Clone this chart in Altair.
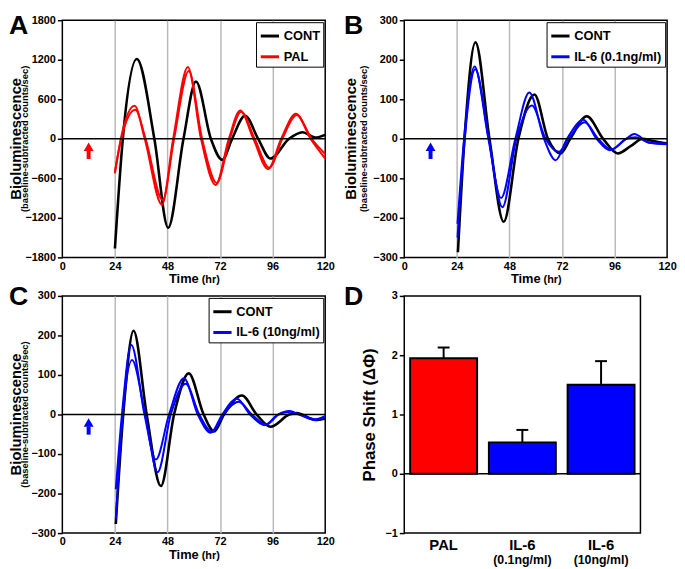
import altair as alt
import pandas as pd

FONT = "Liberation Sans"

# ---------------- Panel A (CONT vs PAL) ----------------
a_cont_t = [24, 27.6, 34, 42, 48.3, 55.3, 61, 67.8, 73, 77.5, 83.4, 89.4, 95, 103.5, 109.6, 115.5, 120]
a_cont_v = [-1665, 0, 1210, 0, -1350, 0, 870, 0, -320, 0, 350, 0, -300, 0, 100, 20, 60]
a_pal1_t = [24, 26.7, 33, 37.6, 45.5, 50.6, 57.3, 63.3, 70, 76, 81.2, 87.2, 93.9, 99.9, 106.6, 113.3, 120]
a_pal1_v = [-525, 0, 500, 0, -1000, 0, 1090, 0, -700, 0, 430, 0, -460, 0, 380, 0, -300]
a_pal2_t = [24, 26.9, 33.3, 38.0, 45.8, 51.0, 57.7, 63.8, 70.5, 76.4, 81.6, 87.8, 94.5, 100.4, 107.0, 113.8, 120]
a_pal2_v = [-500, 0, 440, 0, -930, 0, 1030, 0, -670, 0, 410, 0, -440, 0, 360, 0, -230]

# ---------------- Panel B (CONT vs IL-6 0.1ng/ml) ----------------
b_cont_t = [24.5, 27.5, 32.5, 38.9, 45.4, 52.1, 59.4, 65.6, 71.3, 75.8, 83.3, 90.8, 97.5, 103.5, 108.8, 113, 120]
b_cont_v = [-287, 0, 244, 0, -210, 0, 112, 0, -37, 0, 57, 0, -37, -18, 0, -5, -12]
b_il1_t = [24.3, 27.3, 32.1, 38.4, 44.2, 50.7, 57.1, 63.8, 69.1, 74.3, 81.8, 87.8, 93.8, 101.3, 105, 112, 120]
b_il1_v = [-215, 0, 183, 0, -150, 0, 117, 0, -54, 0, 48, 0, -29, 0, 12, -10, -12]
b_il2_t = [24.3, 27.6, 32.4, 38.6, 44.8, 51.2, 58.3, 64.5, 70.5, 75.0, 82.3, 88.5, 94.5, 101.5, 105.5, 112, 120]
b_il2_v = [-250, 0, 176, 0, -173, 0, 84, 0, -33, 0, 42, 0, -27, 0, 4, -10, -14]

# ---------------- Panel C (CONT vs IL-6 10ng/ml) ----------------
c_cont_t = [24.4, 27.8, 32.5, 38.5, 45, 51, 57.7, 64.5, 69.3, 73.8, 82, 88.7, 95.1, 103.6, 107, 115.5, 120]
c_cont_v = [-277, 0, 212, 0, -181, 0, 104, 0, -43, 0, 48, 0, -31, 0, 4, -14, -10]
c_il1_t = [24.4, 27.2, 31.5, 37.5, 42.7, 48.7, 55.5, 61.8, 67.8, 73, 79.7, 85.7, 92.4, 98.4, 103.6, 108, 115.5, 120]
c_il1_v = [-189, 0, 176, 0, -114, 0, 92, 0, -46, 0, 40, 0, -27, 0, 9, 0, -14, -5]
c_il2_t = [24.4, 27.6, 31.8, 37.8, 43.5, 49.5, 56.3, 62.5, 68.3, 73.5, 80.5, 86.5, 93.0, 98.8, 104.0, 108.5, 115.5, 120]
c_il2_v = [-265, 0, 138, 0, -146, 0, 78, 0, -44, 0, 32, 0, -25, 0, 7, 0, -12, -4]

# ---------------- Panel D (phase shift bars) ----------------
d_groups = ["PAL", "IL-6 (0.1ng/ml)", "IL-6 (10ng/ml)"]
d_sub = ["", "(0.1ng/ml)", "(10ng/ml)"]
d_mean = [1.95, 0.53, 1.50]
d_err_top = [2.13, 0.74, 1.90]
d_colors = ["#ff0000", "#0000ff", "#0000ff"]

# axes ticks
time_ticks = [0, 24, 48, 72, 96, 120]
a_yticks = [-1800, -1200, -600, 0, 600, 1200, 1800]
bc_yticks = [-300, -200, -100, 0, 100, 200, 300]
d_yticks = [-1, 0, 1, 2, 3]

# stimulus arrows (time, head centre, shaft bottom, shaft top)
arrow_t = 12
a_arrow = [-120, -307, -180]
bc_arrow = [-20, -51, -30]


def series_df(parts):
    rows = []
    for name, rep, ts, vs in parts:
        for t, v in zip(ts, vs):
            rows.append({"t": t, "v": v, "s": name, "r": rep})
    return pd.DataFrame(rows)


def time_panel(df, names, colors, ydom, yticks, arrow, arrow_color,
               letter, letter_dx, letter_dy, title_dx, sub_dx, W, H=240):
    xenc = alt.X("t:Q", scale=alt.Scale(domain=[0, 120], nice=False, zero=False),
                 axis=alt.Axis(values=time_ticks, title=None, grid=True,
                               gridColor="#b9b9b9", gridWidth=1.5,
                               gridOpacity={"condition": {"test": "datum.value == 0 || datum.value == 120", "value": 0}, "value": 1},
                               ticks=False, domain=False, labelPadding=3,
                               labelFontSize=11, labelFontWeight="bold",
                               labelColor="black", labelFlush=False,
                               labelOverlap=False, format="d"))
    yaxis = alt.Axis(values=yticks, title=None, grid=False,
                     ticks=True, tickSize=5, tickColor="black",
                     tickWidth=1.5, domain=False, labelPadding=2,
                     labelFontSize=11, labelFontWeight="bold",
                     labelColor="black", labelOverlap=False,
                     labelBound=False, format="d")
    yscale = alt.Scale(domain=ydom, nice=False, zero=False)
    yenc = alt.Y("v:Q", scale=yscale, axis=yaxis)
    legend = alt.Legend(title=None, orient="top-right", offset=2,
                        strokeColor="black", fillColor="white", padding=3,
                        cornerRadius=0, labelFontSize=13, labelFontWeight="bold",
                        labelColor="black", labelFont=FONT, symbolType="stroke",
                        symbolStrokeWidth=3, symbolSize=340, rowPadding=3,
                        labelOffset=3)
    cenc = alt.Color("s:N", scale=alt.Scale(domain=names, range=colors), legend=legend)

    base = alt.Chart(df)
    cont = base.transform_filter(alt.datum.s == names[0]).mark_line(
        interpolate="monotone", strokeWidth=2.6).encode(x=xenc, y=yenc, color=cenc, detail="r:N")
    treat = base.transform_filter(alt.datum.s != names[0]).mark_line(
        interpolate="monotone", strokeWidth=2.0).encode(x=xenc, y=yenc, color=cenc, detail="r:N")

    zero = alt.Chart(pd.DataFrame({"v": [0]})).mark_rule(color="black", strokeWidth=1.5).encode(y=yenc)

    sdf = pd.DataFrame({"t": [arrow_t], "v": [arrow[1]], "v2": [arrow[2]]})
    hdf = pd.DataFrame({"t": [arrow_t], "v": [arrow[0]]})
    shaft = alt.Chart(sdf).mark_rule(color=arrow_color, strokeWidth=4).encode(
        x=xenc, y=yenc, y2="v2:Q")
    head = alt.Chart(hdf).mark_point(shape="triangle-up", filled=True, size=100,
                                      color=arrow_color, opacity=1).encode(x=xenc, y=yenc)

    one = pd.DataFrame({"a": [0]})
    title = alt.Chart(one).mark_text(angle=270, fontSize=15, fontWeight="bold", align="center",
                                     baseline="middle", color="black").encode(
        x=alt.value(title_dx), y=alt.value(H / 2), text=alt.value("Bioluminescence"))
    sub = alt.Chart(one).mark_text(angle=270, fontSize=9.5, fontWeight="bold", align="center",
                                   baseline="middle", color="black").encode(
        x=alt.value(sub_dx), y=alt.value(H / 2), text=alt.value("(baseline-subtracted counts/sec)"))
    xt1 = alt.Chart(one).mark_text(fontSize=13, fontWeight="bold", align="right",
                                   baseline="alphabetic", color="black").encode(
        x=alt.value(W / 2 + 5), y=alt.value(H + 26), text=alt.value("Time"))
    xt2 = alt.Chart(one).mark_text(fontSize=11, fontWeight="bold", align="left",
                                   baseline="alphabetic", color="black").encode(
        x=alt.value(W / 2 + 8), y=alt.value(H + 26), text=alt.value("(hr)"))
    let = alt.Chart(one).mark_text(fontSize=27, fontWeight="bold", align="left",
                                   baseline="top", color="black").encode(
        x=alt.value(letter_dx), y=alt.value(letter_dy), text=alt.value(letter))

    return alt.layer(cont, treat, zero, shaft, head, title, sub, xt1, xt2, let).properties(
        width=W, height=H)


dfA = series_df([("CONT", "c", a_cont_t, a_cont_v), ("PAL", "p1", a_pal1_t, a_pal1_v),
                 ("PAL", "p2", a_pal2_t, a_pal2_v)])
dfB = series_df([("CONT", "c", b_cont_t, b_cont_v), ("IL-6 (0.1ng/ml)", "i1", b_il1_t, b_il1_v),
                 ("IL-6 (0.1ng/ml)", "i2", b_il2_t, b_il2_v)])
dfC = series_df([("CONT", "c", c_cont_t, c_cont_v), ("IL-6 (10ng/ml)", "i1", c_il1_t, c_il1_v),
                 ("IL-6 (10ng/ml)", "i2", c_il2_t, c_il2_v)])

A = time_panel(dfA, ["CONT", "PAL"], ["#000000", "#ff0000"], [-1800, 1800], a_yticks,
               a_arrow, "#ff0000", "A", -54, -7, -46.5, -37.5, 266)
B = time_panel(dfB, ["CONT", "IL-6 (0.1ng/ml)"], ["#000000", "#0000ff"], [-300, 300], bc_yticks,
               bc_arrow, "#0000ff", "B", -61, -7, -54, -41, 266)
C = time_panel(dfC, ["CONT", "IL-6 (10ng/ml)"], ["#000000", "#0000ff"], [-300, 300], bc_yticks,
               bc_arrow, "#0000ff", "C", -54, -12, -46.5, -37.5, 266)

# ---------------- Panel D ----------------
dfD = pd.DataFrame({"g": d_groups, "sub": d_sub, "m": d_mean, "e": d_err_top, "col": d_colors})
DW, DH = 239, 240
dx = alt.X("g:N", scale=alt.Scale(domain=d_groups, paddingInner=0.15, paddingOuter=0.075),
           axis=alt.Axis(title=None, labelExpr="split(datum.label, ' ')[0]", labelAngle=0,
                         ticks=False, domain=False, labelFontSize=15, labelPadding=5,
                         labelFontWeight="bold", labelColor="black"))
dy = alt.Y("m:Q", scale=alt.Scale(domain=[-1, 3], nice=False),
           axis=alt.Axis(values=d_yticks, title="Phase Shift (ΔΦ)", titleFontSize=17,
                         titleFontWeight="bold", titleColor="black", titlePadding=7,
                         grid=False, ticks=True, tickSize=5, tickColor="black", tickWidth=1.5,
                         domain=False, labelPadding=2, labelFontSize=11, labelOverlap=False,
                         labelFontWeight="bold", labelColor="black", format="d"))
bars = alt.Chart(dfD).mark_bar(stroke="black", strokeWidth=2, opacity=1).encode(
    x=dx, y=dy,
    color=alt.Color("g:N", scale=alt.Scale(domain=d_groups, range=d_colors), legend=None))
err = alt.Chart(dfD).mark_rule(color="black", strokeWidth=2).encode(x=dx, y=dy, y2="e:Q")
cap = alt.Chart(dfD).mark_tick(color="black", thickness=2, size=12, opacity=1).encode(
    x=dx, y=alt.Y("e:Q", scale=alt.Scale(domain=[-1, 3], nice=False)))
dzero = alt.Chart(pd.DataFrame({"m": [0]})).mark_rule(color="black", strokeWidth=1.5).encode(y=dy)
subt = alt.Chart(dfD).mark_text(fontSize=12.5, fontWeight="bold", baseline="alphabetic",
                                color="black").encode(x=dx, y=alt.value(DH + 31), text="sub:N")
dlet = alt.Chart(pd.DataFrame({"a": [0]})).mark_text(fontSize=27, fontWeight="bold", align="left",
                                                      baseline="top", color="black").encode(
    x=alt.value(-61), y=alt.value(-12), text=alt.value("D"))
D = alt.layer(bars, err, cap, dzero, subt, dlet).properties(width=DW, height=DH)

chart = alt.concat(A, B, C, D, columns=2, spacing={"row": 39, "column": 80},
                   bounds="flush").resolve_scale(
    x="independent", y="independent", color="independent").properties(
    padding=0).configure(font=FONT).configure_view(
    stroke="black", strokeWidth=1.5).configure_axis(labelOverlap=False)

chart.save("out.html", embed_options={"renderer": "svg", "actions": False})
